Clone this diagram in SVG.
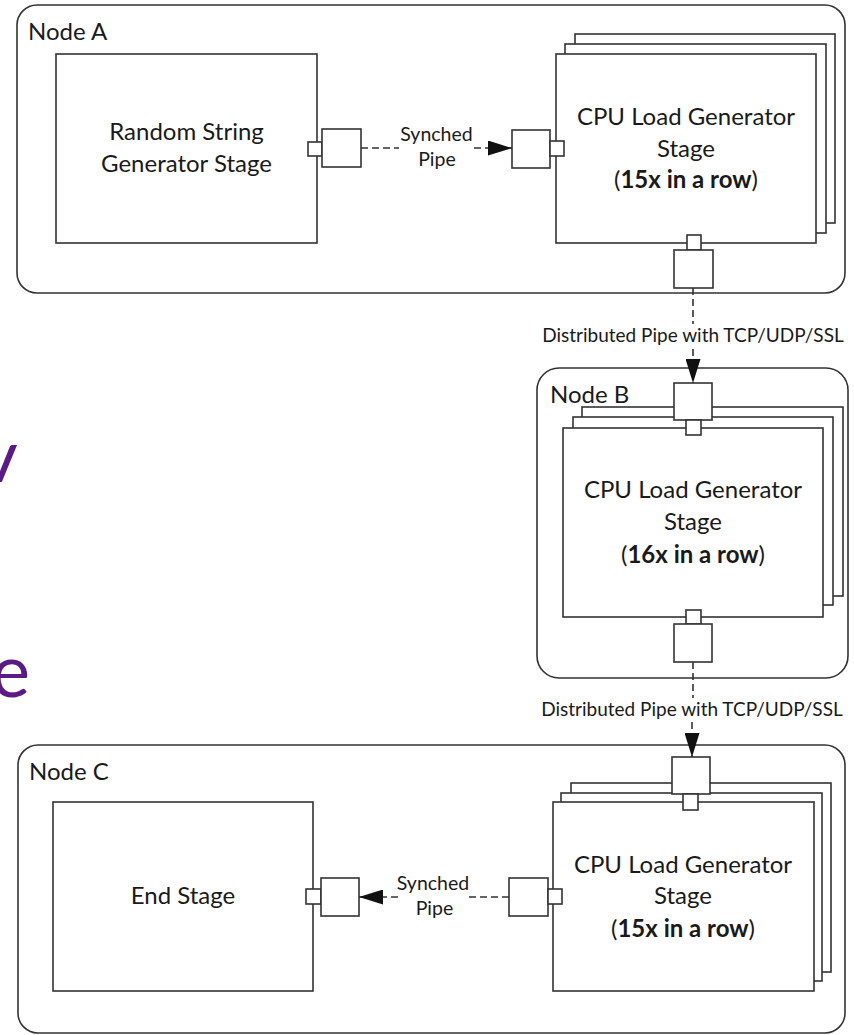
<svg xmlns="http://www.w3.org/2000/svg" width="854" height="1035" viewBox="0 0 854 1035">
  <defs>
    <style>
      .frame { fill: none; stroke: #333; stroke-width: 1.6; }
      .box { fill: #fff; stroke: #333; stroke-width: 1.6; }
      .pipe { fill: none; stroke: #333; stroke-width: 1.6; stroke-dasharray: 7 4; }
      .txt { font-family: Lato, "Liberation Sans", sans-serif; fill: #1a1a1a; }
      .stage { font-size: 24px; text-anchor: middle; }
      .node { font-size: 24px; }
      .lbl { font-size: 19.5px; }
      .dist { font-size: 19px; }
      .b { font-weight: bold; }
      .title { font-family: Lato, "Liberation Sans", sans-serif; font-size: 74px; fill: #5b1a84; text-anchor: end; }
    </style>
    <marker id="arrow" viewBox="0 0 24 15" refX="24" refY="7.5" markerWidth="24" markerHeight="15" markerUnits="userSpaceOnUse" orient="auto">
      <path d="M0,0 L24,7.5 L0,15 z" fill="#111"/>
    </marker>
  </defs>

  <rect width="854" height="1035" fill="#fff"/>

  <!-- partly visible heading letters at the left edge -->
  <g id="heading">
    <text class="title" x="18" y="482">v</text>
    <text class="title" x="30" y="697">e</text>
  </g>

  <!-- Node A -->
  <g id="node-a">
    <rect class="frame" x="17" y="5" width="828" height="288" rx="20"/>
    <text class="txt node" x="28" y="40">Node A</text>
  </g>
  <g id="random-string-stage">
    <rect class="box" x="56" y="54" width="261" height="189"/>
    <text class="txt stage" x="186.5" y="140">Random String</text>
    <text class="txt stage" x="186.5" y="172">Generator Stage</text>
    <rect class="box" x="308" y="142" width="14" height="14"/>
    <rect class="box" x="322" y="129" width="39" height="38"/>
  </g>
  <g id="cpu-stage-a">
    <rect class="box" x="575" y="34" width="260" height="189"/>
    <rect class="box" x="565" y="44" width="261" height="189"/>
    <rect class="box" x="556" y="54" width="260" height="189"/>
    <text class="txt stage" x="686" y="125">CPU Load Generator</text>
    <text class="txt stage" x="686" y="157">Stage</text>
    <text class="txt stage" x="686" y="188">(<tspan class="b">15x in a row</tspan>)</text>
    <rect class="box" x="512" y="130" width="38" height="38"/>
    <rect class="box" x="550" y="141" width="14" height="15"/>
    <rect class="box" x="687" y="235" width="14" height="15"/>
    <rect class="box" x="674" y="250" width="39" height="38"/>
  </g>

  <!-- Node B -->
  <g id="node-b">
    <rect class="frame" x="537" y="368" width="311" height="310" rx="22"/>
    <text class="txt node" x="550" y="403">Node B</text>
  </g>
  <g id="cpu-stage-b">
    <rect class="box" x="582" y="407" width="261" height="189"/>
    <rect class="box" x="573" y="417" width="260" height="188"/>
    <rect class="box" x="563" y="428" width="260" height="189"/>
    <text class="txt stage" x="693" y="498">CPU Load Generator</text>
    <text class="txt stage" x="693" y="530">Stage</text>
    <text class="txt stage" x="693" y="563">(<tspan class="b">16x in a row</tspan>)</text>
    <rect class="box" x="674" y="383" width="38" height="37"/>
    <rect class="box" x="686" y="420" width="15" height="15"/>
    <rect class="box" x="686" y="610" width="15" height="14"/>
    <rect class="box" x="674" y="624" width="38" height="38"/>
  </g>

  <!-- Node C -->
  <g id="node-c">
    <rect class="frame" x="18" y="745" width="827" height="288" rx="20"/>
    <text class="txt node" x="29" y="780">Node C</text>
  </g>
  <g id="end-stage">
    <rect class="box" x="53" y="802" width="260" height="189"/>
    <text class="txt stage" x="183" y="904">End Stage</text>
    <rect class="box" x="306" y="889" width="15" height="15"/>
    <rect class="box" x="321" y="878" width="38" height="38"/>
  </g>
  <g id="cpu-stage-c">
    <rect class="box" x="571" y="783" width="260" height="189"/>
    <rect class="box" x="561" y="793" width="261" height="188"/>
    <rect class="box" x="553" y="802" width="261" height="189"/>
    <text class="txt stage" x="683" y="873">CPU Load Generator</text>
    <text class="txt stage" x="683" y="904">Stage</text>
    <text class="txt stage" x="683" y="937">(<tspan class="b">15x in a row</tspan>)</text>
    <rect class="box" x="672" y="757" width="38" height="37"/>
    <rect class="box" x="683" y="794" width="15" height="16"/>
    <rect class="box" x="509" y="878" width="39" height="38"/>
    <rect class="box" x="548" y="889" width="14" height="15"/>
  </g>

  <!-- pipes between the stages -->
  <g id="connectors">
    <path class="pipe" d="M361,148 L399,148"/>
    <path class="pipe" d="M474,148 L512,148" marker-end="url(#arrow)"/>
    <text class="txt lbl" x="436.5" y="141" text-anchor="middle">Synched</text>
    <text class="txt lbl" x="437" y="166" text-anchor="middle">Pipe</text>

    <path class="pipe" d="M693,288 L693,324"/>
    <path class="pipe" d="M693,349 L693,383" marker-end="url(#arrow)"/>
    <text class="txt dist" x="693" y="342" text-anchor="middle">Distributed Pipe with TCP/UDP/SSL</text>

    <path class="pipe" d="M693,662 L693,698"/>
    <path class="pipe" d="M692,722 L692,757" marker-end="url(#arrow)"/>
    <text class="txt dist" x="692" y="716" text-anchor="middle">Distributed Pipe with TCP/UDP/SSL</text>

    <path class="pipe" d="M509,897 L469,897"/>
    <path class="pipe" d="M398,897 L359,897" marker-end="url(#arrow)"/>
    <text class="txt lbl" x="433" y="890" text-anchor="middle">Synched</text>
    <text class="txt lbl" x="434.5" y="915" text-anchor="middle">Pipe</text>
  </g>
</svg>
